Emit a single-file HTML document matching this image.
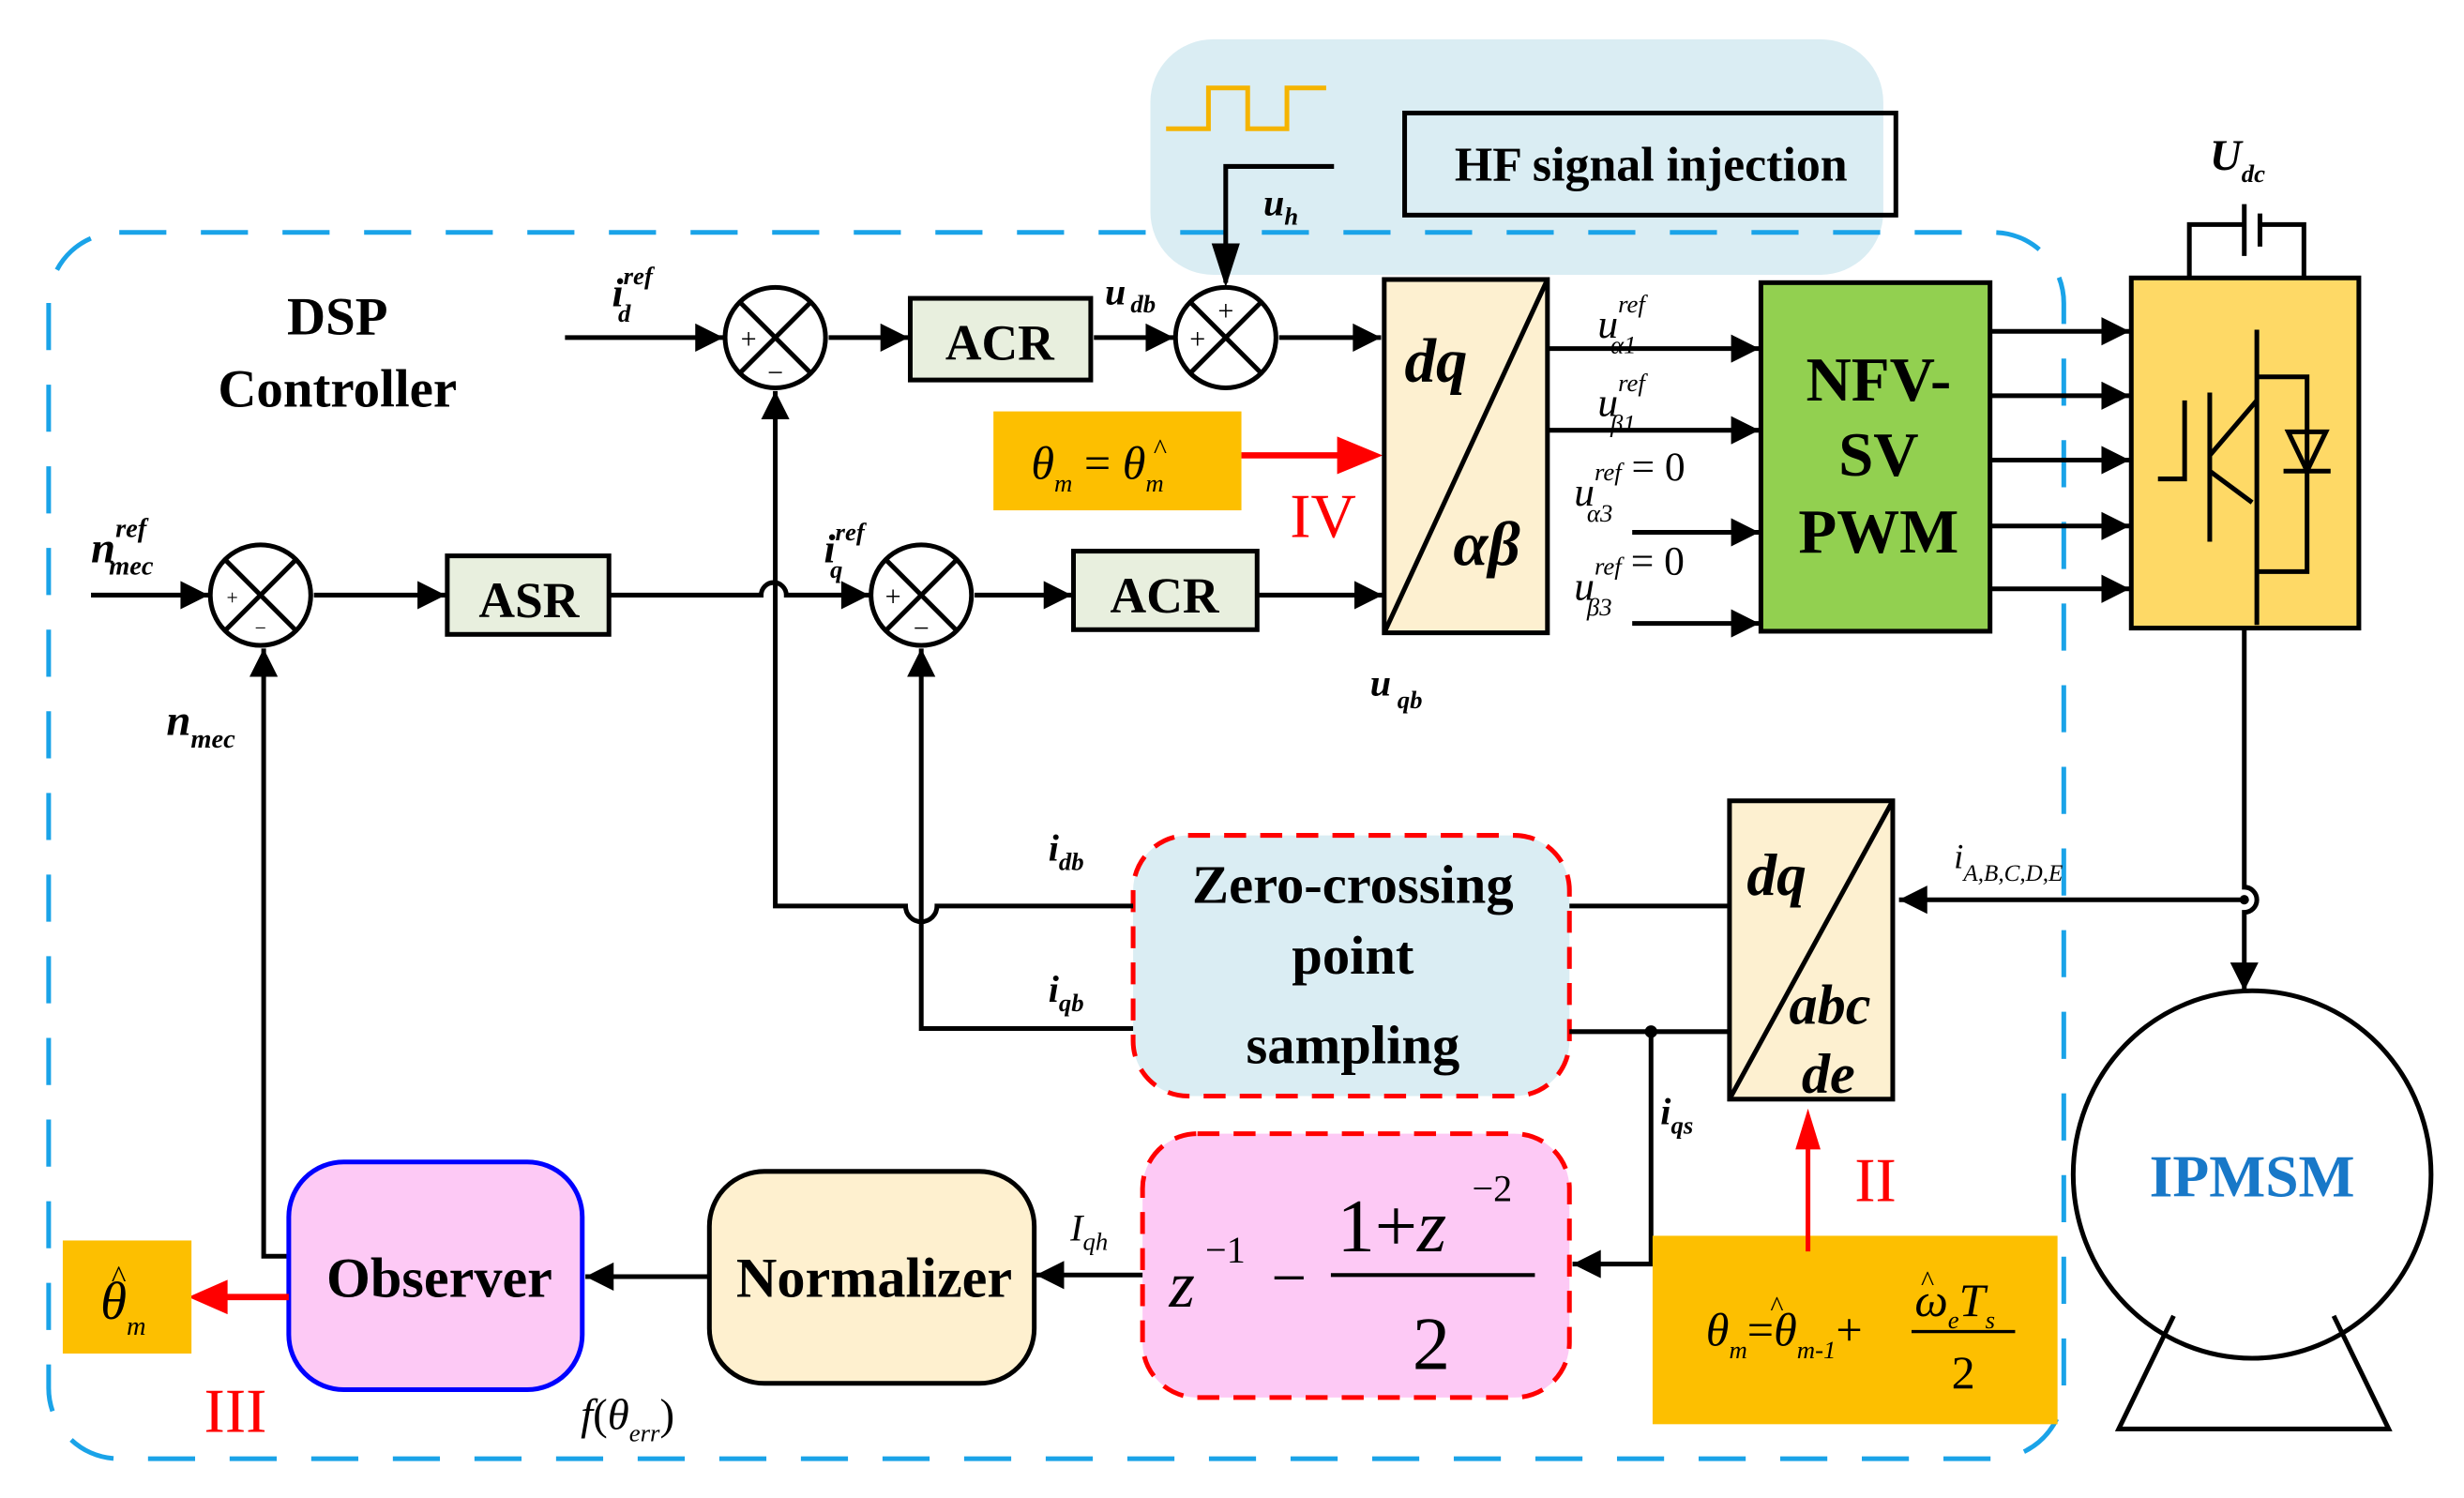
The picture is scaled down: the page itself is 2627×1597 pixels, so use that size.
<!DOCTYPE html>
<html><head><meta charset="utf-8"><style>
html,body{margin:0;padding:0;background:#fff;}
svg{display:block;}
text{font-family:"Liberation Serif",serif;}
.b{font-weight:bold;}
.i{font-style:italic;}
</style></head><body>
<svg width="2627" height="1597" viewBox="0 0 1570 954" preserveAspectRatio="none" xmlns="http://www.w3.org/2000/svg">
<defs>
<marker id="a" viewBox="0 0 10 10" refX="10" refY="5" markerWidth="22" markerHeight="18" orient="auto-start-reverse" markerUnits="userSpaceOnUse"><path d="M0,0 L10,5 L0,10z" fill="#000"/></marker>
</defs>
<g stroke-linecap="butt">
<rect x="733" y="25" width="467" height="150" rx="40" fill="#daedf3"/>
<rect x="31" y="148" width="1284" height="781" rx="45" fill="none" stroke="#1aa3e8" stroke-width="3" stroke-dasharray="30,22"/>
<path d="M743 82 H770 V56 H795 V82 H820 V56 H845" fill="none" stroke="#f5b400" stroke-width="3"/>
<rect x="895" y="72" width="313" height="65" fill="none" stroke="#000" stroke-width="3"/>
<text x="1052" y="115" font-size="31" class="b" text-anchor="middle">HF signal injection</text>
<path d="M850 106 H781 V180" fill="none" stroke="#000" stroke-width="3"/>
<path d="M772 155 L781 183 L790 155z"/>
<text x="805" y="137" font-size="24" class="b i">u<tspan font-size="16" dy="6">h</tspan></text>

<text x="215" y="213" font-size="34" class="b" text-anchor="middle">DSP</text>
<text x="215" y="259" font-size="34" class="b" text-anchor="middle">Controller</text>

<g fill="#fff" stroke="#000" stroke-width="3">
<circle cx="494" cy="215" r="32"/><circle cx="781" cy="215" r="32"/>
<circle cx="166" cy="379" r="32"/><circle cx="587" cy="379" r="32"/>
</g>
<g stroke="#000" stroke-width="3">
<path d="M471 192 L517 238 M517 192 L471 238"/>
<path d="M758 192 L804 238 M804 192 L758 238"/>
<path d="M143 356 L189 402 M189 356 L143 402"/>
<path d="M564 356 L610 402 M610 356 L564 402"/>
</g>
<g font-size="18" text-anchor="middle">
<text x="477" y="222">+</text><text x="494" y="243">−</text>
<text x="781" y="204">+</text><text x="763" y="222">+</text>
<text x="148" y="385" font-size="13">+</text><text x="166" y="404" font-size="13">−</text>
<text x="569" y="386">+</text><text x="587" y="406">−</text>
</g>

<g stroke="#000" stroke-width="3" fill="none">
<path d="M360 215 H461" marker-end="url(#a)"/>
<path d="M528 215 H579" marker-end="url(#a)"/>
<path d="M697 215 H748" marker-end="url(#a)"/>
<path d="M815 215 H880" marker-end="url(#a)"/>
</g>
<rect x="580" y="190" width="115" height="52" fill="#e8efde" stroke="#000" stroke-width="3"/>
<text x="637" y="229" font-size="32" class="b" text-anchor="middle">ACR</text>
<text x="390" y="195" font-size="26" class="b i">i<tspan font-size="16" dy="-14">ref</tspan><tspan font-size="16" dx="-22" dy="24">d</tspan></text>
<text x="704" y="194" font-size="24" class="b i">u<tspan font-size="16" dx="3" dy="5">db</tspan></text>

<rect x="633" y="262" width="158" height="63" fill="#fdbf00"/>
<text x="657" y="305" font-size="30" class="i">θ<tspan font-size="16" dy="8">m</tspan><tspan dy="-8" font-style="normal"> = </tspan>θ<tspan font-size="16" dy="8">m</tspan></text>
<text x="735" y="292" font-size="18">^</text>
<path d="M791 290 H855" stroke="#f00" stroke-width="4"/>
<path d="M852 278 L881 290 L852 302z" fill="#f00"/>
<text x="843" y="342" font-size="40" fill="#f00" text-anchor="middle">IV</text>

<g stroke="#000" stroke-width="3" fill="none">
<path d="M58 379 H133" marker-end="url(#a)"/>
<path d="M200 379 H284" marker-end="url(#a)"/>
<path d="M388 379 H485 A8 8 0 0 1 501 379 H554" marker-end="url(#a)"/>
<path d="M621 379 H683" marker-end="url(#a)"/>
<path d="M801 379 H881" marker-end="url(#a)"/>
</g>
<rect x="285" y="354" width="103" height="50" fill="#e8efde" stroke="#000" stroke-width="3"/>
<text x="337" y="393" font-size="32" class="b" text-anchor="middle">ASR</text>
<rect x="684" y="351" width="117" height="50" fill="#e8efde" stroke="#000" stroke-width="3"/>
<text x="742" y="390" font-size="32" class="b" text-anchor="middle">ACR</text>
<text x="58" y="358" font-size="28" class="b i">n<tspan font-size="17" dy="-16">ref</tspan><tspan font-size="17" dx="-24" dy="24">mec</tspan></text>
<text x="525" y="358" font-size="26" class="b i">i<tspan font-size="16" dy="-14">ref</tspan><tspan font-size="16" dx="-22" dy="24">q</tspan></text>
<text x="106" y="468" font-size="28" class="b i">n<tspan font-size="17" dy="8">mec</tspan></text>
<text x="873" y="443" font-size="24" class="b i">u<tspan font-size="16" dx="4" dy="8">qb</tspan></text>

<rect x="882" y="178" width="104" height="225" fill="#fdf0d0" stroke="#000" stroke-width="3"/>
<path d="M882 403 L986 178" stroke="#000" stroke-width="3"/>
<text x="895" y="243" font-size="40" class="b i">dq</text>
<text x="926" y="360" font-size="40" class="b i">αβ</text>

<g stroke="#000" stroke-width="3" fill="none">
<path d="M986 222 H1121" marker-end="url(#a)"/>
<path d="M986 274 H1121" marker-end="url(#a)"/>
<path d="M1040 339 H1121" marker-end="url(#a)"/>
<path d="M1040 397 H1121" marker-end="url(#a)"/>
</g>
<g font-size="26" class="i">
<text x="1018" y="215">u<tspan font-size="16" dy="-16">ref</tspan><tspan font-size="16" dx="-22" dy="26">α1</tspan></text>
<text x="1018" y="265">u<tspan font-size="16" dy="-16">ref</tspan><tspan font-size="16" dx="-22" dy="26">β1</tspan></text>
<text x="1003" y="322">u<tspan font-size="16" dy="-16">ref</tspan><tspan font-size="16" dx="-22" dy="26">α3</tspan><tspan font-style="normal" dx="12" dy="-26">= 0</tspan></text>
<text x="1003" y="382">u<tspan font-size="16" dy="-16">ref</tspan><tspan font-size="16" dx="-22" dy="26">β3</tspan><tspan font-style="normal" dx="12" dy="-26">= 0</tspan></text>
</g>
<rect x="1122" y="180" width="146" height="222" fill="#92d050" stroke="#000" stroke-width="3"/>
<g font-size="40" class="b" text-anchor="middle">
<text x="1197" y="255">NFV-</text><text x="1197" y="303">SV</text><text x="1197" y="352">PWM</text>
</g>
<g stroke="#000" stroke-width="3" fill="none">
<path d="M1268 211 H1357" marker-end="url(#a)"/>
<path d="M1268 252 H1357" marker-end="url(#a)"/>
<path d="M1268 293 H1357" marker-end="url(#a)"/>
<path d="M1268 335 H1357" marker-end="url(#a)"/>
<path d="M1268 375 H1357" marker-end="url(#a)"/>
</g>

<rect x="1358" y="177" width="145" height="223" fill="#fed966" stroke="#000" stroke-width="3"/>
<g stroke="#000" stroke-width="3" fill="none">
<path d="M1395 177 V143 H1430 M1430 130 V163 M1440 136 V157 M1440 143 H1468 V177"/>
<path d="M1438 210 V398 M1438 240 H1470 V364 H1438"/>
<path d="M1375 305 H1392 V255 M1408 250 V345 M1408 290 L1438 255 M1408 300 L1435 320"/>
<path d="M1455 300 H1485 M1470 300 L1458 275 H1482 Z"/>
<path d="M1430 400 V565 A8 8 0 0 1 1430 581 V631" marker-end="url(#a)"/>
<path d="M1430 573 H1210" marker-end="url(#a)"/>
</g>
<circle cx="1430" cy="573" r="3"/>
<text x="1408" y="108" font-size="28" class="b i">U<tspan font-size="16" dy="8">dc</tspan></text>
<text x="1245" y="553" font-size="22" class="i">i<tspan font-size="15" dy="8">A,B,C,D,E</tspan></text>

<ellipse cx="1435" cy="748" rx="114" ry="117" fill="#fff" stroke="#000" stroke-width="3"/>
<path d="M1385 838 L1350 910 H1522 L1487 838" fill="none" stroke="#000" stroke-width="3"/>
<text x="1435" y="762" font-size="38" class="b" fill="#1878c8" text-anchor="middle">IPMSM</text>

<rect x="1102" y="510" width="104" height="190" fill="#fdf0d0" stroke="#000" stroke-width="3"/>
<path d="M1102 700 L1206 510" stroke="#000" stroke-width="3"/>
<text x="1113" y="570" font-size="38" class="b i">dq</text>
<text x="1140" y="652" font-size="36" class="b i">abc</text>
<text x="1148" y="696" font-size="36" class="b i">de</text>

<rect x="722" y="532" width="278" height="166" rx="35" fill="#daedf3" stroke="#f00" stroke-width="3" stroke-dasharray="14,9"/>
<g font-size="35" class="b" text-anchor="middle">
<text x="862" y="575">Zero-crossing</text><text x="862" y="620">point</text><text x="862" y="677">sampling</text>
</g>
<g stroke="#000" stroke-width="3" fill="none">
<path d="M1000 577 H1102 M1000 657 H1102"/>
<path d="M722 577 H597 A10 10 0 0 1 577 577 H494 V249" marker-end="url(#a)"/>
<path d="M722 655 H587 V413" marker-end="url(#a)"/>
<path d="M1052 657 V805 H1002" marker-end="url(#a)"/>
</g>
<circle cx="1052" cy="657" r="4"/>
<text x="668" y="548" font-size="24" class="b i">i<tspan font-size="16" dy="6">db</tspan></text>
<text x="668" y="638" font-size="24" class="b i">i<tspan font-size="16" dy="6">qb</tspan></text>
<text x="1058" y="716" font-size="24" class="b i">i<tspan font-size="16" dy="6">qs</tspan></text>

<rect x="728" y="722" width="272" height="168" rx="35" fill="#fdc9f5" stroke="#f00" stroke-width="3" stroke-dasharray="14,9"/>
<text x="745" y="832" font-size="42" class="i">z</text>
<text x="768" y="804" font-size="24">−1</text>
<text x="810" y="827" font-size="40">−</text>
<path d="M848 812 H978" stroke="#000" stroke-width="2.5"/>
<text x="852" y="797" font-size="48">1+<tspan class="i">z</tspan></text>
<text x="938" y="765" font-size="24">−2</text>
<text x="912" y="872" font-size="48" text-anchor="middle">2</text>

<g stroke="#000" stroke-width="3" fill="none">
<path d="M728 812 H660" marker-end="url(#a)"/>
<path d="M452 813 H373" marker-end="url(#a)"/>
<path d="M184 800 H168 V413" marker-end="url(#a)"/>
</g>
<text x="682" y="790" font-size="24" class="i">I<tspan font-size="16" dy="6">qh</tspan></text>
<rect x="452" y="746" width="207" height="135" rx="35" fill="#fef0cf" stroke="#000" stroke-width="3"/>
<text x="557" y="826" font-size="36" class="b" text-anchor="middle">Normalizer</text>
<rect x="184" y="740" width="187" height="145" rx="35" fill="#fdc9f5" stroke="#0000ff" stroke-width="3"/>
<text x="280" y="826" font-size="36" class="b" text-anchor="middle">Observer</text>
<path d="M184 826 H140" stroke="#f00" stroke-width="4"/>
<path d="M145 815 L120 826 L145 837z" fill="#f00"/>
<rect x="40" y="790" width="82" height="72" fill="#fdbf00"/>
<text x="64" y="840" font-size="34" class="i">θ<tspan font-size="17" dy="10">m</tspan></text>
<text x="71" y="820" font-size="20">^</text>
<text x="150" y="912" font-size="40" fill="#f00" text-anchor="middle">III</text>
<text x="370" y="910" font-size="28" class="i">f<tspan font-style="normal">(</tspan>θ<tspan font-size="16" dy="8">err</tspan><tspan font-style="normal" dy="-8">)</tspan></text>

<rect x="1053" y="787" width="258" height="120" fill="#fdbf00"/>
<path d="M1152 797 V728" stroke="#f00" stroke-width="3"/>
<path d="M1144 732 L1152 706 L1160 732z" fill="#f00"/>
<text x="1195" y="765" font-size="40" fill="#f00" text-anchor="middle">II</text>
<text x="1087" y="857" font-size="30" class="i">θ<tspan font-size="16" dy="8">m</tspan><tspan font-style="normal" dy="-8">=</tspan>θ<tspan font-size="16" dy="8">m-1</tspan><tspan font-style="normal" dy="-8">+</tspan></text>
<text x="1128" y="838" font-size="18">^</text>
<text x="1220" y="838" font-size="30" class="i">ω<tspan font-size="16" dy="8">e</tspan><tspan dy="-8">T</tspan><tspan font-size="16" dy="8">s</tspan></text>
<text x="1224" y="822" font-size="18">^</text>
<path d="M1218 848 H1284" stroke="#000" stroke-width="2"/>
<text x="1251" y="884" font-size="30" text-anchor="middle">2</text>
</g>
</svg>
</body></html>
